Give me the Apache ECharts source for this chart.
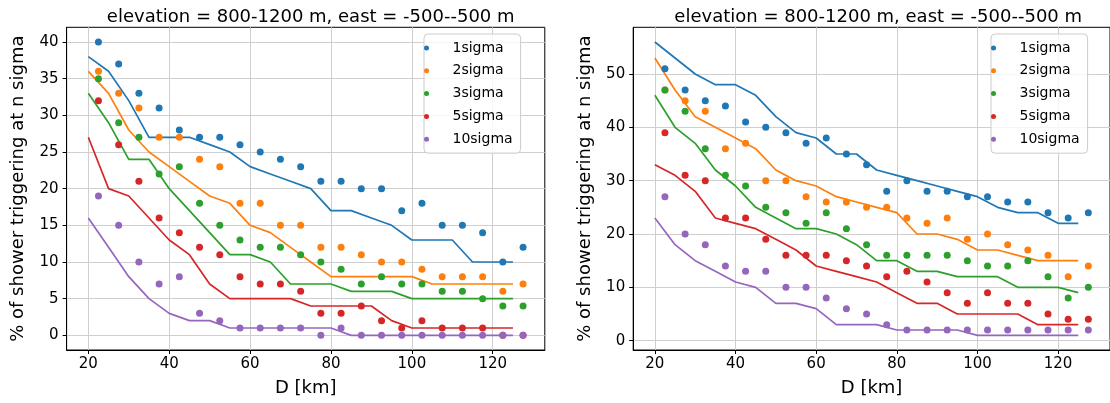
<!DOCTYPE html>
<html>
<head>
<meta charset="utf-8">
<script src="https://cdn.jsdelivr.net/npm/echarts@6/dist/echarts.min.js"></script>
<style>
  html, body { margin: 0; padding: 0; background: #fff; }
  #chart { width: 1110px; height: 403px; }
</style>
</head>
<body>
<div id="chart"></div>
<script>
// names / colours of the five thresholds
const sigmaNames = ['1sigma', '2sigma', '3sigma', '5sigma', '10sigma'];
const colors = ['#1f77b4', '#ff7f0e', '#2ca02c', '#d62728', '#9467bd'];

const titleText = 'elevation = 800-1200 m, east = -500--500 m';

// D [km] of the dots and of the line vertices
const dotKm = [22.5, 27.5, 32.5, 37.5, 42.5, 47.5, 52.5, 57.5, 62.5, 67.5, 72.5,
  77.5, 82.5, 87.5, 92.5, 97.5, 102.5, 107.5, 112.5, 117.5, 122.5, 127.5];
const lineKm = [20, 25, 30, 35, 40, 45, 50, 55, 60, 65, 70,
  75, 80, 85, 90, 95, 100, 105, 110, 115, 120, 125];

const xTicks = [20, 40, 60, 80, 100, 120];
const yTicksA = [0, 5, 10, 15, 20, 25, 30, 35, 40];
const yTicksB = [0, 10, 20, 30, 40, 50];

// left panel: dots
const dotsA1 = [40, 37, 33, 31, 28, 27, 27, 26, 25, 24, 23, 21, 21, 20, 20, 17, 18, 15, 15, 14, 10, 12];
const dotsA2 = [36, 33, 31, 27, 27, 24, 23, 18, 18, 15, 15, 12, 12, 11, 10, 10, 9, 8, 8, 8, 6, 7];
const dotsA3 = [35, 29, 27, 22, 23, 18, 15, 13, 12, 12, 11, 10, 9, 7, 8, 7, 7, 6, 6, 5, 4, 4];
const dotsA5 = [32, 26, 21, 16, 14, 12, 11, 8, 7, 7, 6, 3, 3, 4, 2, 1, 2, 1, 1, 1, 0, 0];
const dotsA10 = [19, 15, 10, 7, 8, 3, 2, 1, 1, 1, 1, 0, 1, 0, 0, 0, 0, 0, 0, 0, 0, 0];
// left panel: lines
const lineA1 = [38, 36, 32, 27, 27, 27, 26, 25, 23, 22, 21, 20, 17, 17, 16, 15, 13, 13, 13, 10, 10, 10];
const lineA2 = [36, 33, 28, 25, 23, 21, 19, 18, 15, 14, 12, 10, 8, 8, 8, 8, 8, 7, 7, 7, 7, 7];
const lineA3 = [33, 29, 24, 24, 20, 17, 14, 11, 11, 10, 7, 7, 7, 6, 6, 6, 5, 5, 5, 5, 5, 5];
const lineA5 = [27, 20, 19, 16, 13, 11, 7, 5, 5, 5, 5, 4, 4, 4, 4, 2, 1, 1, 1, 1, 1, 1];
const lineA10 = [16, 12, 8, 5, 3, 2, 2, 1, 1, 1, 1, 1, 1, 0, 0, 0, 0, 0, 0, 0, 0, 0];

// right panel: dots
const dotsB1 = [51, 47, 45, 44, 41, 40, 39, 37, 38, 35, 33, 28, 30, 28, 28, 27, 27, 26, 26, 24, 23, 24];
const dotsB2 = [47, 45, 43, 36, 37, 30, 30, 27, 26, 26, 25, 25, 23, 22, 23, 19, 20, 18, 17, 16, 12, 14];
const dotsB3 = [47, 43, 36, 31, 29, 25, 24, 22, 24, 21, 18, 16, 16, 16, 16, 15, 14, 14, 15, 12, 8, 10];
const dotsB5 = [39, 31, 30, 23, 23, 19, 16, 16, 16, 15, 14, 12, 13, 11, 9, 7, 9, 7, 7, 5, 4, 4];
const dotsB10 = [27, 20, 18, 14, 13, 13, 10, 10, 8, 6, 5, 3, 2, 2, 2, 2, 2, 2, 2, 2, 2, 2];
// right panel: lines
const lineB1 = [56, 53, 50, 48, 48, 46, 42, 39, 38, 35, 35, 32, 31, 30, 29, 28, 27, 25, 24, 24, 22, 22];
const lineB2 = [53, 47, 42, 40, 38, 36, 32, 30, 29, 27, 26, 25, 24, 20, 20, 19, 17, 17, 16, 15, 15, 15];
const lineB3 = [46, 40, 37, 32, 29, 25, 23, 21, 21, 20, 18, 15, 15, 13, 13, 12, 12, 12, 10, 10, 10, 9];
const lineB5 = [33, 31, 28, 23, 22, 21, 19, 17, 14, 13, 12, 11, 9, 7, 7, 5, 5, 5, 5, 3, 3, 3];
const lineB10 = [23, 18, 15, 13, 11, 10, 7, 7, 6, 3, 3, 3, 2, 2, 2, 2, 1, 1, 1, 1, 1, 1];

const FONT = 'DejaVu Sans';

function panelSeries(idx, dots, lines) {
  const out = [];
  lines.forEach((vals, i) => {
    out.push({
      type: 'line',
      name: sigmaNames[i] + ' line',
      xAxisIndex: idx,
      yAxisIndex: idx,
      data: lineKm.map((d, j) => [d, vals[j]]),
      symbol: 'none',
      lineStyle: { color: colors[i], width: 1.7 },
      itemStyle: { color: colors[i] },
      silent: true,
      z: 2
    });
  });
  dots.forEach((vals, i) => {
    out.push({
      type: 'scatter',
      name: sigmaNames[i],
      xAxisIndex: idx,
      yAxisIndex: idx,
      data: dotKm.map((d, j) => [d, vals[j]]),
      symbol: 'circle',
      symbolSize: 7,
      itemStyle: { color: colors[i], opacity: 1 },
      z: 3
    });
  });
  return out;
}

function xAxisFor(idx) {
  return {
    type: 'value',
    gridIndex: idx,
    min: 14.625,
    max: 132.875,
    minInterval: 20,
    maxInterval: 20,
    name: 'D [km]',
    nameLocation: 'middle',
    nameGap: 29,
    nameTextStyle: { fontFamily: FONT, fontSize: 18, color: '#000' },
    axisLine: { show: true, onZero: false, lineStyle: { color: '#000', width: 1 } },
    axisTick: { show: true, length: 4, customValues: xTicks, lineStyle: { color: '#000' } },
    axisLabel: { fontFamily: FONT, fontSize: 15, color: '#000', margin: 7, customValues: xTicks },
    splitLine: { show: true, lineStyle: { color: '#cfcfcf', width: 1 } }
  };
}

function yAxisFor(idx, min, max, step, ticks) {
  return {
    type: 'value',
    gridIndex: idx,
    min: min,
    max: max,
    minInterval: step,
    maxInterval: step,
    name: '% of shower triggering at n sigma',
    nameLocation: 'middle',
    nameGap: 39,
    nameTextStyle: { fontFamily: FONT, fontSize: 18, color: '#000' },
    axisLine: { show: true, onZero: false, lineStyle: { color: '#000', width: 1 } },
    axisTick: { show: true, length: 4, customValues: ticks, lineStyle: { color: '#000' } },
    axisLabel: { fontFamily: FONT, fontSize: 15, color: '#000', margin: 8, customValues: ticks },
    splitLine: { show: true, lineStyle: { color: '#cfcfcf', width: 1 } }
  };
}

function legendFor(left) {
  return {
    left: left,
    top: 34,
    orient: 'vertical',
    data: sigmaNames,
    icon: 'circle',
    itemWidth: 42,
    itemHeight: 5,
    itemGap: 8.8,
    padding: [7, 8, 7, 0],
    backgroundColor: 'rgba(255,255,255,0.8)',
    borderColor: '#cccccc',
    borderWidth: 1,
    borderRadius: 4,
    selectedMode: false,
    textStyle: { fontFamily: FONT, fontSize: 14, color: '#000' }
  };
}

const chart = echarts.init(document.getElementById('chart'), null, { renderer: 'canvas' });

const option = {
  animation: false,
  backgroundColor: '#fff',
  textStyle: { fontFamily: FONT },
  title: [
    { text: titleText, left: 305.7, top: 3, textAlign: 'center',
      textStyle: { fontFamily: FONT, fontSize: 18, fontWeight: 'normal', color: '#000' } },
    { text: titleText, left: 873.2, top: 3, textAlign: 'center',
      textStyle: { fontFamily: FONT, fontSize: 18, fontWeight: 'normal', color: '#000' } }
  ],
  legend: [legendFor(424), legendFor(991)],
  grid: [
    { left: 66.6, top: 27.3, width: 478.2, height: 322.7, show: true, borderColor: '#000', borderWidth: 1, backgroundColor: 'transparent' },
    { left: 633.2, top: 27.3, width: 480, height: 322.7, show: true, borderColor: '#000', borderWidth: 1, backgroundColor: 'transparent' }
  ],
  xAxis: [xAxisFor(0), xAxisFor(1)],
  yAxis: [
    yAxisFor(0, -2, 42, 5, yTicksA),
    yAxisFor(1, -1.75, 58.75, 10, yTicksB)
  ],
  series: [
    ...panelSeries(0, [dotsA1, dotsA2, dotsA3, dotsA5, dotsA10], [lineA1, lineA2, lineA3, lineA5, lineA10]),
    ...panelSeries(1, [dotsB1, dotsB2, dotsB3, dotsB5, dotsB10], [lineB1, lineB2, lineB3, lineB5, lineB10])
  ]
};

chart.setOption(option);
</script>
</body>
</html>
